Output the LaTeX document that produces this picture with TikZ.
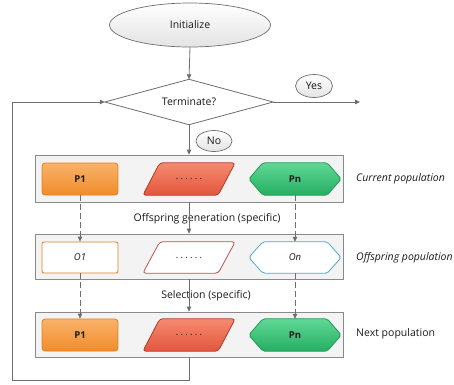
\documentclass[tikz,border=0pt]{standalone}
\usepackage{fontspec}
\setmainfont{Open Sans}
\usetikzlibrary{arrows.meta,shapes.geometric,calc}

\definecolor{linegray}{HTML}{6E6E6E}
\definecolor{boxedge}{HTML}{8A8A8A}
\definecolor{boxfill}{HTML}{F3F3F3}
\definecolor{textcol}{HTML}{1A1A1A}
\definecolor{orTop}{HTML}{F9B26A}
\definecolor{orBot}{HTML}{F08C2A}
\definecolor{orEdge}{HTML}{E0801E}
\definecolor{rdTop}{HTML}{F58A70}
\definecolor{rdBot}{HTML}{E2563C}
\definecolor{rdEdge}{HTML}{B5382A}
\definecolor{gnTop}{HTML}{5FD896}
\definecolor{gnBot}{HTML}{26AE62}
\definecolor{gnEdge}{HTML}{1F9A55}
\definecolor{olEdge}{HTML}{C0504D}
\definecolor{blEdge}{HTML}{4BACC6}

\newcommand{\labfont}{\fontsize{10.5}{12}\selectfont}
\newcommand{\slotfont}{\fontsize{9.5}{11}\selectfont}
\newcommand{\manydots}{.\hspace{2.2pt}.\hspace{2.2pt}.\hspace{2.2pt}.\hspace{2.2pt}.\hspace{2.2pt}.}

\tikzset{
  every node/.style={text=textcol},
  flow/.style={draw=linegray, line width=0.8pt, -{Triangle[length=5pt,width=4.5pt]}},
  flowdash/.style={flow, dash pattern=on 6pt off 3pt},
  oval/.style={ellipse, draw=linegray, line width=0.7pt, top color=white, bottom color=gray!22, inner sep=0pt, font=\labfont},
  frame/.style={draw=boxedge, line width=0.7pt, fill=boxfill, minimum width=308pt, inner sep=0pt},
  slot/.style={draw=none, inner sep=0pt, minimum height=32pt, font=\slotfont\bfseries},
  label/.style={font=\labfont, anchor=west, inner sep=0pt},
}

\begin{document}
\begin{tikzpicture}[x=1pt, y=-1pt]
  \useasboundingbox (0,0) rectangle (454,384);

  % start and decision
  \node[oval, minimum width=161pt, minimum height=44pt] (init) at (190,25) {Initialize};
  \node[draw=none, minimum width=168pt, minimum height=45pt, inner sep=0pt] (term) at (189,102) {};
  \draw[draw=linegray, line width=0.8pt, fill=white]
    (term.north) -- (term.east) -- (term.south) -- (term.west) -- cycle;
  \node[font=\labfont] at (term.center) {Terminate?};
  \node[oval, minimum width=37pt, minimum height=23pt] (yes) at (314,86) {Yes};
  \node[oval, minimum width=36pt, minimum height=21pt] (no) at (214,141) {No};
  \coordinate (exit) at (360,102);

  % population frames
  \node[frame, minimum height=47pt] (cur) at (189,178.5) {};
  \node[frame, minimum height=45pt] (off) at (189,256.5) {};
  \node[frame, minimum height=45pt] (nxt) at (189,334.5) {};

  % current population
  \node[slot, minimum width=76pt, rounded corners=3pt, draw=orEdge, line width=0.8pt,
        top color=orTop, bottom color=orBot] (cp1) at (80,179) {P1};
  \node[slot, minimum width=92pt] (cpm) at (189,179) {};
  \draw[draw=rdEdge, line width=0.8pt, top color=rdTop, bottom color=rdBot, rounded corners=3pt]
    (cpm.south west) -- ($(cpm.north west)+(17pt,0)$) -- (cpm.north east)
    -- ($(cpm.south east)-(17pt,0)$) -- cycle;
  \node[font=\slotfont] at (cpm.center) {\manydots};
  \node[slot, minimum width=92pt] (cpn) at (295,179) {};
  \draw[draw=gnEdge, line width=0.8pt, top color=gnTop, bottom color=gnBot, rounded corners=2pt]
    (cpn.west) -- ($(cpn.north west)+(14pt,0)$) -- ($(cpn.north east)-(14pt,0)$)
    -- (cpn.east) -- ($(cpn.south east)-(14pt,0)$) -- ($(cpn.south west)+(14pt,0)$) -- cycle;
  \node[font=\slotfont\bfseries] at (cpn.center) {Pn};

  % offspring population
  \node[slot, minimum width=76pt, minimum height=31pt, rounded corners=2pt, draw=orEdge,
        line width=0.8pt, fill=white, font=\slotfont\itshape] (op1) at (80,257.5) {O1};
  \node[slot, minimum width=92pt, minimum height=31pt] (opm) at (189,257.5) {};
  \draw[draw=olEdge, line width=0.8pt, fill=white, rounded corners=3pt]
    (opm.south west) -- ($(opm.north west)+(17pt,0)$) -- (opm.north east)
    -- ($(opm.south east)-(17pt,0)$) -- cycle;
  \node[font=\slotfont] at (opm.center) {\manydots};
  \node[slot, minimum width=92pt, minimum height=31pt] (opn) at (295,257.5) {};
  \draw[draw=blEdge, line width=0.8pt, fill=white, rounded corners=2pt]
    (opn.west) -- ($(opn.north west)+(14pt,0)$) -- ($(opn.north east)-(14pt,0)$)
    -- (opn.east) -- ($(opn.south east)-(14pt,0)$) -- ($(opn.south west)+(14pt,0)$) -- cycle;
  \node[font=\slotfont\itshape] at (opn.center) {On};

  % next population
  \node[slot, minimum width=76pt, rounded corners=3pt, draw=orEdge, line width=0.8pt,
        top color=orTop, bottom color=orBot] (np1) at (80,335) {P1};
  \node[slot, minimum width=92pt] (npm) at (189,335) {};
  \draw[draw=rdEdge, line width=0.8pt, top color=rdTop, bottom color=rdBot, rounded corners=3pt]
    (npm.south west) -- ($(npm.north west)+(17pt,0)$) -- (npm.north east)
    -- ($(npm.south east)-(17pt,0)$) -- cycle;
  \node[font=\slotfont] at (npm.center) {\manydots};
  \node[slot, minimum width=92pt] (npn) at (295,335) {};
  \draw[draw=gnEdge, line width=0.8pt, top color=gnTop, bottom color=gnBot, rounded corners=2pt]
    (npn.west) -- ($(npn.north west)+(14pt,0)$) -- ($(npn.north east)-(14pt,0)$)
    -- (npn.east) -- ($(npn.south east)-(14pt,0)$) -- ($(npn.south west)+(14pt,0)$) -- cycle;
  \node[font=\slotfont\bfseries] at (npn.center) {Pn};

  % row labels
  \node[label, font=\labfont\itshape] (lcur) at (356,179) {Current population};
  \node[label, font=\labfont\itshape] (loff) at (356,258) {Offspring population};
  \node[label] (lnxt) at (356,334) {Next population};
  \node[font=\labfont, inner sep=0pt] (gen) at (207,219) {Offspring generation (specific)};
  \node[font=\labfont, inner sep=0pt] (sel) at (206,296) {Selection (specific)};

  % connectors
  \draw[flow] (init.south) -- (term.north);
  \draw[flow] (term.east) -- (exit);
  \draw[flow] (term.south) -- (cur.north);
  \draw[flow] (cur.south) -- (off.north);
  \draw[flow] (off.south) -- (nxt.north);
  \draw[flowdash] (cp1.south) -- (op1.north);
  \draw[flowdash] (cpn.south) -- (opn.north);
  \draw[flowdash] (op1.south) -- (np1.north);
  \draw[flowdash] (opn.south) -- (npn.north);
  \coordinate (loopA) at (189,380);
  \coordinate (loopB) at (12,380);
  \coordinate (loopC) at (12,102);
  \draw[flow] (nxt.south) -- (loopA) -- (loopB) -- (loopC) -- (term.west);
\end{tikzpicture}
\end{document}
